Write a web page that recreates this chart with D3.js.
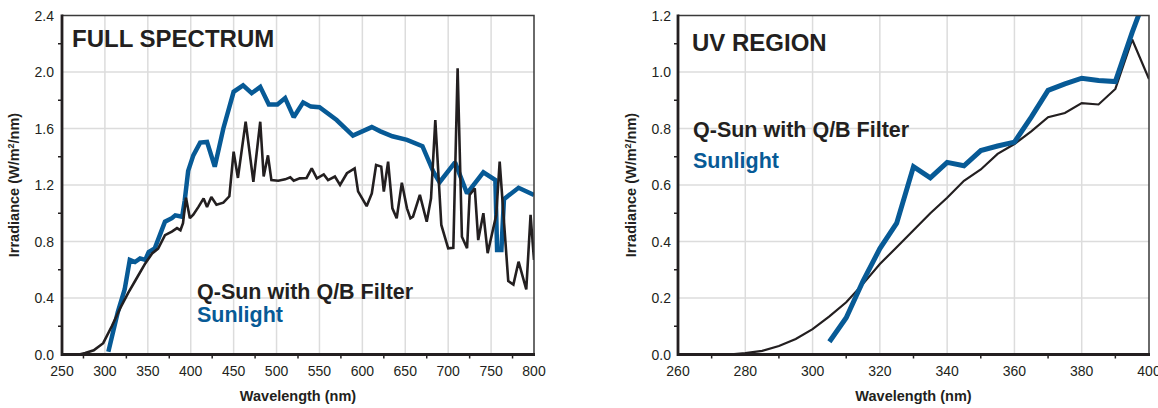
<html>
<script src="https://d3js.org/d3.v7.min.js"></script>
<style>
  body { margin: 0; background: #fff; }
  text { font-family: "Liberation Sans", Arial, Helvetica, sans-serif; fill: #231f20; }
</style>
<body>
<svg id="chart" width="1158" height="408"></svg>
<script>
// ---- data ----
// full spectrum panel: [wavelength nm, irradiance W/m2/nm]
var sunFull = [[304,0.02],[315,0.3],[323,0.46],[329,0.67],[335,0.655],[341,0.68],[347,0.67],[351,0.725],
  [358,0.75],[364,0.845],[370,0.94],[378,0.965],[382,0.985],[390,0.975],[393,1.09],[397,1.3],[403,1.41],
  [411,1.5],[419,1.505],[428,1.33],[438,1.6],[450,1.86],[461,1.905],[471,1.85],[481,1.895],[491,1.77],
  [501,1.77],[510,1.815],[520,1.68],[531,1.785],[540,1.755],[550,1.75],[570,1.66],[589,1.55],[611,1.61],
  [621,1.58],[635,1.545],[652,1.52],[670,1.475],[683,1.29],[690,1.22],[708,1.36],[722,1.14],[741,1.29],
  [755,1.235],[757,0.74],[762,0.74],[765,1.1],[782,1.18],[800,1.13]];
var qsunFull = [[250,0],[270,0],[277,0.01],[287,0.03],[298,0.08],[308,0.2],[318,0.33],[327,0.435],[337,0.54],
  [347,0.645],[355,0.715],[362,0.75],[370,0.845],[378,0.87],[384,0.895],[388,0.88],[391,0.93],[394.5,1.11],
  [399,0.965],[403,0.99],[409,1.045],[415,1.105],[419,1.045],[424,1.115],[430,1.06],[438,1.075],[445,1.12],
  [450,1.436],[455,1.25],[464,1.648],[473,1.223],[481,1.648],[485,1.26],[490,1.41],[494,1.235],[502,1.23],
  [510,1.24],[516,1.255],[520,1.23],[527,1.247],[535,1.25],[541,1.318],[547,1.247],[555,1.275],[560,1.235],
  [568,1.26],[574,1.2],[582,1.283],[591,1.318],[595,1.155],[605,1.05],[611,1.14],[616,1.342],[622,1.33],
  [625,1.153],[630,1.365],[635,1.035],[640,0.964],[646,1.216],[652,1.035],[656,0.964],[659,0.976],[667,1.13],
  [675,0.94],[680,1.106],[685,1.66],[692,0.917],[700,0.752],[706,0.756],[711,2.026],[716,0.834],[722,0.752],
  [725,1.13],[731,1.177],[735,0.81],[741,1.0],[746,0.717],[756,0.988],[760,1.365],[770,0.52],[776,0.495],
  [782,0.657],[791,0.46],[796,0.988],[800,0.669]];

// UV panel, 5 nm steps
var uvWl = [260,265,270,275,280,285,290,295,300,305,310,315,320,325,330,335,340,345,350,355,360,365,370,375,380,385,390,395,400];
var qsunUV = [0,0,0,0,0.005,0.013,0.03,0.055,0.09,0.135,0.185,0.25,0.32,0.38,0.44,0.5,0.555,0.615,0.655,0.71,
  0.745,0.79,0.84,0.855,0.89,0.885,0.94,1.115,0.975];
var sunUVWl = [305,310,315,320,325,330,335,340,345,350,355,360,365,370,375,380,385,390,395,400];
var sunUV = [0.045,0.13,0.26,0.375,0.465,0.665,0.625,0.68,0.668,0.722,0.738,0.752,0.84,0.935,0.958,0.978,
  0.97,0.966,1.14,1.3];

// tick values
var fullXTicks = [250,300,350,400,450,500,550,600,650,700,750,800];
var fullXMinor = [275,325,375,425,475,525,575,625,675,725,775];
var fullYTicks = [0,0.4,0.8,1.2,1.6,2.0,2.4];
var fullYMinor = [0.2,0.6,1.0,1.4,1.8,2.2];
var uvXTicks = [260,280,300,320,340,360,380,400];
var uvXMinor = [270,290,310,330,350,370,390];
var uvYTicks = [0,0.2,0.4,0.6,0.8,1.0,1.2];
var uvYMinor = [0.1,0.3,0.5,0.7,0.9,1.1];

var BLUE = "#075a96", DARK = "#231f20";

var svg = d3.select("#chart");

function drawPanel(p) {
  var x = d3.scaleLinear().domain(p.xDomain).range([p.left, p.right]);
  var y = d3.scaleLinear().domain(p.yDomain).range([p.bottom, p.top]);
  var g = svg.append("g");

  // gridlines
  g.selectAll(".vg").data(p.xTicks.slice(1, -1)).enter().append("line")
    .attr("x1", d => x(d)).attr("x2", d => x(d))
    .attr("y1", p.top).attr("y2", p.bottom)
    .attr("stroke", "#dcdcdc").attr("stroke-width", 1.5);
  g.selectAll(".hg").data(p.yTicks.slice(1, -1)).enter().append("line")
    .attr("x1", p.left).attr("x2", p.right)
    .attr("y1", d => y(d)).attr("y2", d => y(d))
    .attr("stroke", "#dcdcdc").attr("stroke-width", 1.5);

  // clip to plot area
  svg.append("clipPath").attr("id", p.id + "clip").append("rect")
    .attr("x", p.left).attr("y", p.top)
    .attr("width", p.right - p.left).attr("height", p.bottom - p.top);

  var line = d3.line().x(d => x(d[0])).y(d => y(d[1]));
  var lines = g.append("g").attr("clip-path", "url(#" + p.id + "clip)");
  p.series.forEach(function(s) {
    lines.append("path").datum(s.data)
      .attr("fill", "none")
      .attr("stroke", s.color)
      .attr("stroke-width", s.width)
      .attr("stroke-linejoin", "miter")
      .attr("stroke-miterlimit", 2)
      .attr("d", line);
  });

  // top and right frame
  g.append("path")
    .attr("d", "M" + p.left + "," + p.top + "H" + p.right + "V" + p.bottom)
    .attr("fill", "none").attr("stroke", "#3a3a3a").attr("stroke-width", 1.5);

  // minor ticks
  g.selectAll(".mx").data(p.xMinor).enter().append("line")
    .attr("x1", d => x(d)).attr("x2", d => x(d))
    .attr("y1", p.bottom).attr("y2", p.bottom + 4)
    .attr("stroke", DARK).attr("stroke-width", 1.5);
  g.selectAll(".my").data(p.yMinor).enter().append("line")
    .attr("x1", p.left - 4).attr("x2", p.left)
    .attr("y1", d => y(d)).attr("y2", d => y(d))
    .attr("stroke", DARK).attr("stroke-width", 1.5);

  // left and bottom axis lines
  g.append("path")
    .attr("d", "M" + p.left + "," + (p.top - 1) + "V" + p.bottom + "H" + (p.right + 1))
    .attr("fill", "none").attr("stroke", DARK).attr("stroke-width", 2.8);

  // tick labels
  g.selectAll(".xl").data(p.xTicks).enter().append("text")
    .attr("x", d => x(d)).attr("y", p.bottom + 21.5)
    .attr("text-anchor", "middle").attr("font-size", 14)
    .text(d => d);
  g.selectAll(".yl").data(p.yTicks).enter().append("text")
    .attr("x", p.left - p.yLabelGap).attr("y", d => y(d) + 5)
    .attr("text-anchor", "end").attr("font-size", 14)
    .text(d => d3.format(".1f")(d));

  // axis titles
  g.append("text")
    .attr("x", (p.left + p.right) / 2).attr("y", 401)
    .attr("text-anchor", "middle").attr("font-size", 14.5).attr("font-weight", "bold")
    .text("Wavelength (nm)");
  var yt = g.append("text")
    .attr("transform", "translate(" + p.yTitleX + "," + ((p.top + p.bottom) / 2) + ") rotate(-90)")
    .attr("text-anchor", "middle").attr("font-size", 14.5).attr("font-weight", "bold");
  yt.append("tspan").text("Irradiance (W/m");
  yt.append("tspan").attr("font-size", 9).attr("dy", -5).text("2");
  yt.append("tspan").attr("dy", 5).text("/nm)");

  // panel title
  g.append("text").attr("x", p.titleX).attr("y", p.titleY)
    .attr("font-size", 24).attr("font-weight", "bold").text(p.title);

  // legend
  g.append("text").attr("x", p.legX).attr("y", p.legY1)
    .attr("font-size", 21.5).attr("font-weight", "bold").text("Q-Sun with Q/B Filter");
  g.append("text").attr("x", p.legX).attr("y", p.legY2)
    .attr("font-size", 21.5).attr("font-weight", "bold").style("fill", BLUE).text("Sunlight");
}

// left panel: full spectrum (sunlight under, lamp on top)
drawPanel({
  id: "full", left: 62, right: 534, top: 15.5, bottom: 354.5,
  xDomain: [250, 800], yDomain: [0, 2.4],
  xTicks: fullXTicks, xMinor: fullXMinor, yTicks: fullYTicks, yMinor: fullYMinor,
  yLabelGap: 8, yTitleX: 19,
  title: "FULL SPECTRUM", titleX: 72, titleY: 47,
  legX: 197, legY1: 299, legY2: 322,
  series: [
    {data: sunFull, color: BLUE, width: 4.5},
    {data: qsunFull, color: DARK, width: 2.6}
  ]
});

// right panel: UV region (lamp under, sunlight on top)
drawPanel({
  id: "uv", left: 678, right: 1149, top: 15.5, bottom: 354.5,
  xDomain: [260, 400], yDomain: [0, 1.2],
  xTicks: uvXTicks, xMinor: uvXMinor, yTicks: uvYTicks, yMinor: uvYMinor,
  yLabelGap: 7, yTitleX: 636,
  title: "UV REGION", titleX: 692, titleY: 51,
  legX: 693, legY1: 137, legY2: 168,
  series: [
    {data: d3.zip(uvWl, qsunUV), color: DARK, width: 2.2},
    {data: d3.zip(sunUVWl, sunUV), color: BLUE, width: 5}
  ]
});
</script>
</body>
</html>
